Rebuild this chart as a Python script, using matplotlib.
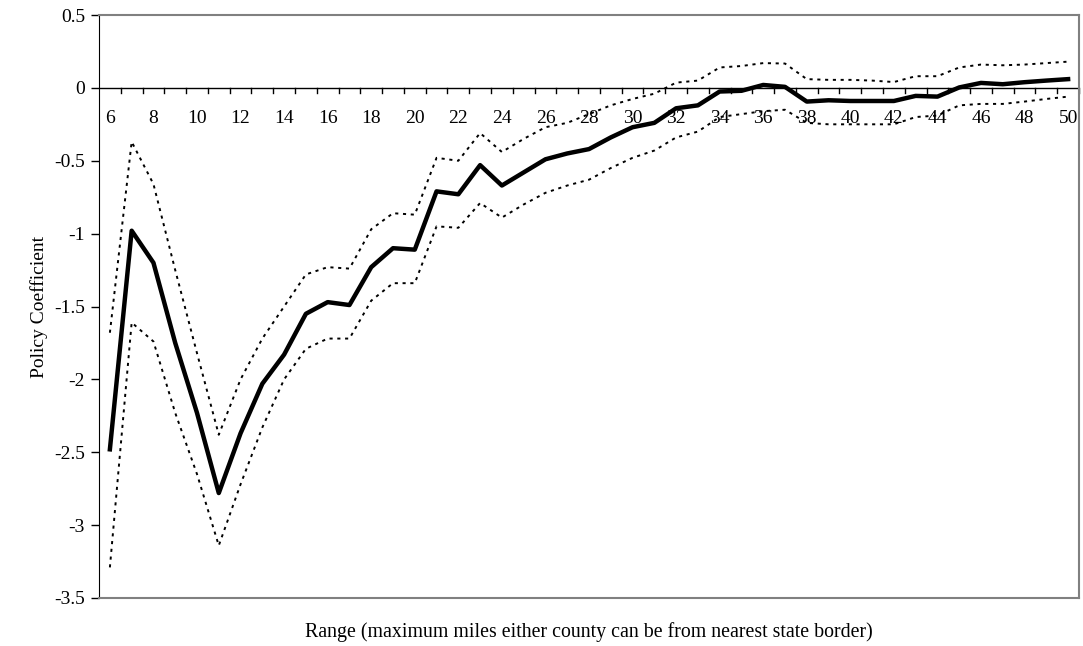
import numpy as np
import matplotlib.pyplot as plt

plt.rcParams['font.family'] = ['Liberation Serif', 'DejaVu Serif']

ranges = list(range(6, 51))
coef = [-2.48, -0.98, -1.20, -1.75, -2.23, -2.78, -2.37, -2.03, -1.83, -1.55,
        -1.47, -1.49, -1.23, -1.10, -1.11, -0.71, -0.73, -0.53, -0.67, -0.58,
        -0.49, -0.45, -0.42, -0.34, -0.27, -0.24, -0.14, -0.12, -0.025, -0.02,
        0.02, 0.007, -0.094, -0.085, -0.09, -0.09, -0.09, -0.055, -0.06, 0.003,
        0.034, 0.025, 0.039, 0.05, 0.06]
upper = [-1.68, -0.37, -0.66, -1.25, -1.82, -2.38, -2.00, -1.72, -1.50, -1.28,
         -1.23, -1.24, -0.97, -0.86, -0.87, -0.48, -0.50, -0.31, -0.44, -0.35,
         -0.27, -0.24, -0.18, -0.12, -0.076, -0.04, 0.036, 0.05, 0.14, 0.15,
         0.17, 0.167, 0.06, 0.055, 0.055, 0.05, 0.04, 0.08, 0.08, 0.14,
         0.16, 0.155, 0.16, 0.17, 0.18]
lower = [-3.29, -1.61, -1.74, -2.23, -2.65, -3.14, -2.72, -2.33, -2.00, -1.79,
         -1.72, -1.72, -1.46, -1.34, -1.34, -0.95, -0.96, -0.79, -0.89, -0.80,
         -0.72, -0.67, -0.63, -0.55, -0.48, -0.43, -0.34, -0.30, -0.20, -0.18,
         -0.16, -0.15, -0.24, -0.25, -0.25, -0.25, -0.25, -0.20, -0.19, -0.12,
         -0.11, -0.11, -0.094, -0.076, -0.06]

fig = plt.figure(figsize=(10.83, 6.46), dpi=100)
ax = fig.add_axes([99/1083, 1 - 598/646, 980/1083, 583/646])

dots = (0, (1.6, 2.4))
ax.plot(ranges, upper, color='black', lw=1.4, linestyle=dots)
ax.plot(ranges, lower, color='black', lw=1.4, linestyle=dots)
ax.plot(ranges, coef, color='black', lw=3.2)

ax.set_xlim(5.5, 50.5)
ax.set_ylim(-3.5, 0.5)
ax.set_yticks(np.arange(-3.5, 0.51, 0.5))
ax.set_yticklabels(['-3.5', '-3', '-2.5', '-2', '-1.5', '-1', '-0.5', '0', '0.5'])
ax.tick_params(axis='y', direction='out', length=6, width=1, labelsize=14, pad=4)

# category axis crossing at zero
ax.axhline(0, color='black', lw=1)
ax.set_xticks([])
for b in np.arange(6.5, 50.6, 1.0):
    ax.plot([b, b], [0, -0.035], color='black', lw=1, clip_on=False)
for x in ranges[::2]:
    ax.text(x, -0.21, str(x), ha='center', va='center', fontsize=14)

for s in ['top', 'right', 'bottom']:
    ax.spines[s].set_color('#808080')
    ax.spines[s].set_linewidth(1.5)
ax.spines['left'].set_color('black')

ax.set_ylabel('Policy Coefficient', fontsize=14)
ax.yaxis.set_label_coords(-51/980, 0.5)
ax.set_xlabel('Range (maximum miles either county can be from nearest state border)',
              fontsize=14.3)
ax.xaxis.set_label_coords(0.5, -24/583)

fig.savefig('out.png', dpi=100)
